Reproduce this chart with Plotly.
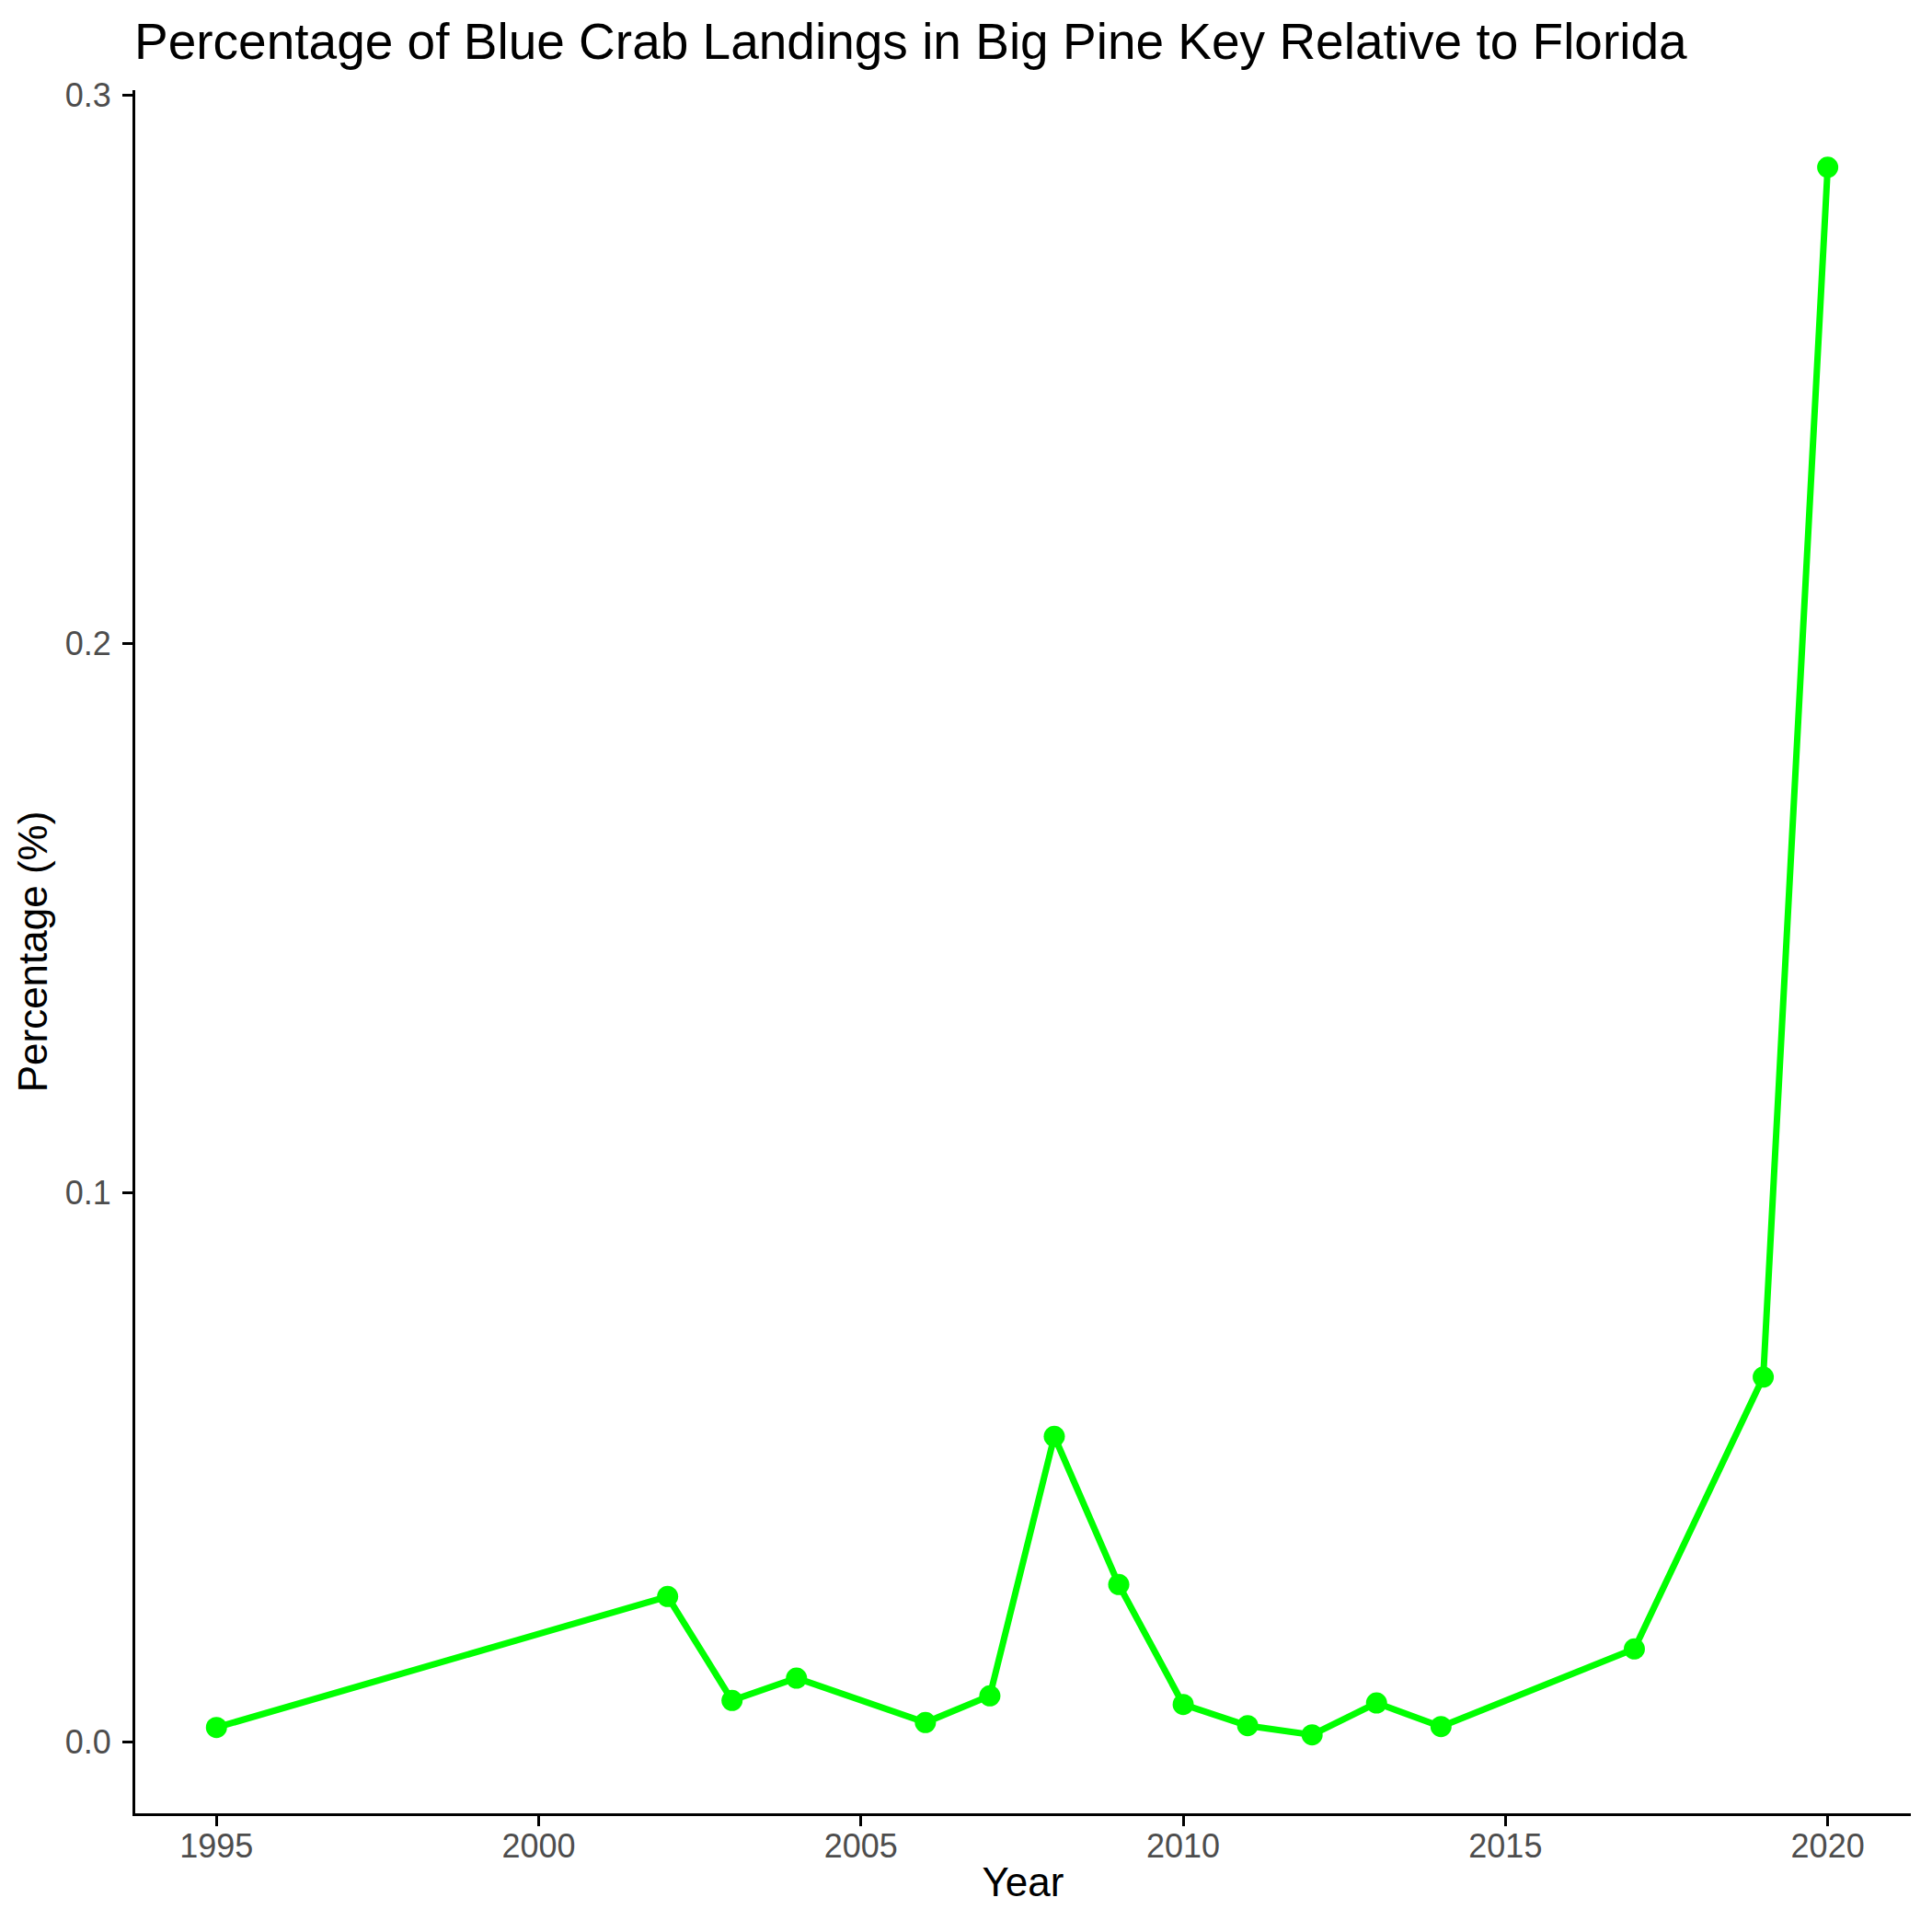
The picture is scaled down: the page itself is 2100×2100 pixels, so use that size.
import plotly.graph_objects as go

years = [1995, 2002, 2003, 2004, 2006, 2007, 2008, 2009, 2010, 2011, 2012, 2013, 2014, 2017, 2019, 2020]
percentages = [0.00257, 0.02643, 0.00749, 0.01156, 0.00347, 0.00833, 0.0556, 0.0286,
               0.00676, 0.0029, 0.00123, 0.00704, 0.00274, 0.01687, 0.0664, 0.2868]

x_ticks = [1995, 2000, 2005, 2010, 2015, 2020]
y_ticks = [0.0, 0.1, 0.2, 0.3]
y_tick_labels = ["0.0", "0.1", "0.2", "0.3"]

FONT = "Liberation Sans, Arial, sans-serif"

fig = go.Figure()
fig.add_trace(go.Scatter(
    x=years, y=percentages, mode="lines+markers",
    line=dict(color="#00FF00", width=7),
    marker=dict(color="#00FF00", size=23),
    showlegend=False,
))

fig.update_layout(
    width=2100, height=2100,
    paper_bgcolor="white", plot_bgcolor="white",
    margin=dict(l=139, r=31, t=90, b=137),
    font=dict(family=FONT, color="black"),
    title=dict(text="Percentage of Blue Crab Landings in Big Pine Key Relative to Florida",
               font=dict(size=55, color="black", family=FONT),
               xref="container", x=138/2100, xanchor="left",
               yref="container", y=1-37/2100, yanchor="middle"),
    xaxis=dict(
        range=[1993.74, 2021.29], tickvals=x_ticks,
        showline=True, linecolor="black", linewidth=3,
        ticks="outside", ticklen=11, tickwidth=3, tickcolor="black",
        tickfont=dict(size=36, color="#4D4D4D", family=FONT),
        ticklabelstandoff=-9,
        showgrid=False, zeroline=False,
        title=dict(text="Year", font=dict(size=44, color="black", family=FONT), standoff=4),
        automargin=False,
    ),
    yaxis=dict(
        range=[-0.01307, 0.30084], tickvals=y_ticks, ticktext=y_tick_labels,
        showline=True, linecolor="black", linewidth=3,
        ticks="outside", ticklen=11, tickwidth=3, tickcolor="black",
        tickfont=dict(size=36, color="#4D4D4D", family=FONT),
        ticklabelstandoff=5,
        showgrid=False, zeroline=False,
        title=dict(text="Percentage (%)", font=dict(size=44, color="black", family=FONT), standoff=6),
        automargin=False,
    ),
)

fig.write_html("out.html")
